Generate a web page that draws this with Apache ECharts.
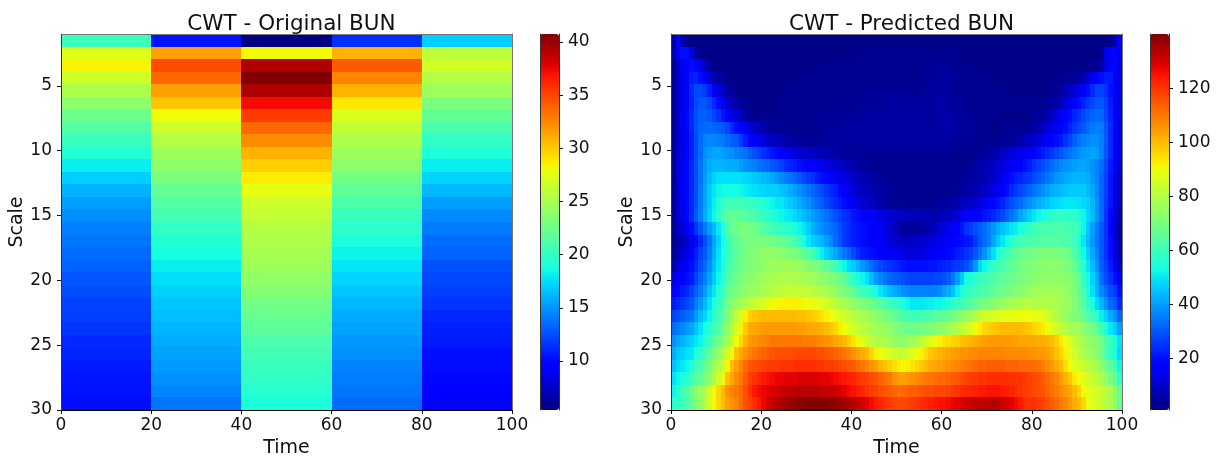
<!DOCTYPE html>
<html><head><meta charset="utf-8">
<script src="https://cdn.jsdelivr.net/npm/echarts@6/dist/echarts.min.js"></script>
<style>html,body{margin:0;padding:0;background:#fff}#c{width:1219px;height:458px;filter:blur(0.5px)}</style>
</head><body><div id="c"></div>
<script>
const titles = ['CWT - Original BUN', 'CWT - Predicted BUN'];
const xName = 'Time', yName = 'Scale';
const xTicks = [0, 20, 40, 60, 80, 100];
const yTicks = [5, 10, 15, 20, 25, 30];
const barTicksLeft = [10, 15, 20, 25, 30, 35, 40];
const barTicksRight = [20, 40, 60, 80, 100, 120];
const rangeLeft = [5.4, 40.75];
const rangeRight = [1, 140];

const origTime0 = [20.3,27.3,28.4,26.6,25.2,23.8,22.4,21.3,20.2,19.2,18.1,17.0,16.0,15.3,14.8,14.2,13.9,13.5,13.2,12.8,12.5,12.1,12.0,11.6,11.2,11.1,10.7,10.5,10.4,10.2];
const origTime1 = [10.4,31.6,34.7,33.7,31.5,30.2,28.0,26.6,25.5,24.5,23.8,23.1,22.0,21.3,20.6,19.9,19.2,18.7,18.1,17.6,17.1,16.7,16.4,16.1,15.8,15.5,15.2,14.9,14.4,13.9];
const origTime2 = [5.4,28.2,39.3,40.75,39.3,37.2,35.4,33.7,32.3,30.9,29.8,28.7,27.7,26.6,26.1,25.5,25.2,24.8,24.5,24.0,23.4,22.7,22.2,21.7,21.0,20.6,20.2,19.9,19.4,19.0];
const origTime3 = [11.4,30.9,34.2,32.6,30.9,28.9,27.2,26.1,25.2,24.5,23.8,22.7,21.8,21.0,20.2,19.7,19.0,18.3,17.8,17.2,16.7,16.2,15.8,15.5,15.1,14.8,14.4,14.1,13.9,13.5];
const origTime4 = [17.0,25.9,26.6,25.5,24.5,23.1,22.0,21.0,19.9,19.0,18.1,17.2,16.2,15.3,14.6,14.1,13.5,13.2,12.6,12.3,12.0,11.6,11.2,10.9,10.7,10.3,10.2,10.0,9.8,9.8];

const predicted = [
[5,16,7,3,2,2,2,2,2,2,2,2,2,2,2,2,2,2,2,2,2,2,2,2,2,2,2,2,2,2,2,2,2,2,2,2,2,2,2,2,2,2,2,2,2,2,2,2,2,2,2,2,2,2,2,2,2,2,2,2,2,2,2,2,2,2,2,2,2,2,2,2,2,2,2,2,2,2,2,2,2,2,2,2,2,2,2,2,2,2,2,2,2,2,2,2,2,3,8,16],
[6,14,20,20,12,7,3,2,2,2,2,2,2,2,2,2,2,2,2,2,2,2,2,2,2,2,2,2,2,2,2,2,2,2,2,2,2,2,2,2,2,2,3,3,3,3,3,3,3,3,3,3,3,3,3,3,3,3,3,3,3,3,3,3,2,2,2,2,2,2,2,2,2,2,2,2,2,2,2,2,2,2,2,2,2,2,2,2,2,2,2,2,2,2,2,3,14,18,18,15],
[4,9,15,18,20,18,13,8,5,3,2,2,2,2,2,2,2,2,2,2,2,2,2,2,2,2,2,2,2,2,2,2,2,2,3,3,3,3,3,3,3,3,3,3,3,3,3,3,3,3,3,3,3,3,3,3,4,4,4,4,4,4,3,3,3,3,2,2,2,2,2,2,2,2,2,2,2,2,2,2,2,2,2,2,2,2,2,2,2,2,2,2,2,3,4,6,12,18,19,12],
[4,9,14,18,22,23,20,15,11,7,5,3,2,2,2,2,2,2,2,2,2,2,2,2,2,2,2,2,3,3,3,3,3,3,3,3,3,3,3,3,3,3,3,3,3,3,3,3,3,3,3,3,3,3,3,3,4,4,4,5,5,5,4,3,3,3,3,3,3,3,3,2,2,2,2,2,2,2,2,2,2,2,2,2,2,2,3,3,3,4,5,7,10,14,17,20,22,22,17,12],
[4,9,14,18,24,28,28,26,22,18,13,9,6,4,3,2,2,2,2,2,2,2,2,2,3,3,3,3,3,3,3,3,3,3,3,3,3,3,3,3,3,3,3,4,4,4,4,4,4,4,4,4,4,4,4,4,4,5,5,5,5,5,4,4,3,3,3,3,3,3,3,3,3,3,2,2,2,2,2,2,2,2,2,2,3,4,5,7,9,11,14,17,20,24,27,27,25,20,16,12],
[4,9,14,18,23,28,30,30,28,24,20,15,11,8,6,4,3,2,2,2,2,2,2,3,3,3,3,3,3,3,3,3,3,3,3,3,4,4,4,4,4,4,4,4,4,4,4,4,5,5,5,5,5,5,5,5,5,5,5,6,6,5,5,4,4,4,3,3,3,3,3,3,3,3,3,3,3,3,3,3,3,3,3,4,5,6,9,12,15,18,20,23,26,28,30,30,27,22,18,13],
[4,9,14,19,24,29,31,31,30,28,25,21,16,13,11,8,6,4,3,3,3,3,3,3,3,3,3,3,3,3,3,3,4,4,4,4,4,4,4,4,4,4,5,5,5,5,5,5,5,5,5,5,5,5,5,5,5,5,5,6,6,6,5,5,4,4,4,3,3,3,3,3,3,2,2,2,2,2,2,2,3,4,5,7,9,12,15,17,20,23,25,28,30,32,33,32,28,23,18,13],
[4,9,14,19,24,29,32,33,33,32,31,30,28,24,20,17,15,12,10,8,6,5,4,4,3,3,3,3,3,3,3,3,4,4,4,4,4,4,5,5,5,5,5,5,5,5,5,5,5,5,5,5,5,5,5,5,5,5,5,6,6,6,6,5,5,4,4,4,3,3,2,2,2,3,3,3,3,3,4,4,5,7,9,11,13,15,17,20,23,26,28,30,33,35,36,35,30,24,18,13],
[4,9,14,18,23,28,33,36,37,37,36,35,33,31,30,26,22,19,16,14,12,10,9,8,7,6,5,5,4,4,4,4,4,4,5,5,5,5,5,5,5,5,5,5,5,5,5,5,5,5,5,5,5,5,5,5,5,5,5,5,5,5,5,4,4,4,4,3,3,3,3,3,3,4,4,4,5,6,8,9,10,12,14,16,18,20,22,25,28,31,34,36,37,38,38,36,30,24,18,13],
[4,10,14,19,23,28,33,38,40,41,41,40,39,38,36,35,34,31,29,27,25,23,21,19,18,16,14,12,11,10,10,9,8,7,7,6,6,5,5,5,4,4,4,4,4,4,4,4,4,4,4,4,4,4,4,4,4,4,4,4,4,4,3,3,3,3,3,3,4,4,5,6,7,9,10,12,13,14,15,16,18,20,22,24,26,28,30,32,34,36,38,39,40,41,40,36,30,24,18,12],
[4,11,15,19,24,29,34,39,42,43,43,43,42,42,42,40,38,37,36,34,33,32,30,29,27,24,23,22,20,19,18,17,15,14,13,12,11,10,8,7,6,5,5,4,4,3,3,3,3,3,3,3,3,3,3,3,3,3,3,3,3,3,3,3,3,3,4,5,6,7,8,9,11,12,14,15,17,18,20,22,25,27,29,31,33,35,37,38,39,40,41,41,40,38,36,33,28,22,16,11],
[4,11,15,19,24,29,34,40,44,47,49,49,49,49,49,49,48,47,46,45,44,43,41,39,37,35,34,32,30,28,26,25,22,20,19,17,15,14,13,11,9,8,7,6,5,5,4,4,4,3,3,3,3,3,3,3,3,3,3,3,3,3,3,3,4,4,5,5,6,7,8,10,12,14,17,20,22,23,25,26,28,30,32,34,36,39,40,41,42,43,43,43,42,39,36,32,27,21,14,8],
[4,10,15,19,24,29,35,41,46,50,52,53,53,53,53,52,51,50,49,48,48,47,47,47,45,44,42,40,38,36,34,32,30,28,26,24,22,19,16,14,12,10,9,8,7,6,5,5,4,4,3,3,3,3,3,3,3,3,3,3,3,3,4,4,5,5,6,7,8,9,11,13,15,17,20,24,26,28,30,32,34,36,38,40,42,43,44,45,46,46,46,46,44,41,37,32,27,21,14,8],
[4,10,14,19,24,29,35,41,46,51,55,59,60,61,61,60,60,59,58,57,56,54,52,50,50,48,46,44,42,40,38,35,33,31,28,26,24,22,20,17,15,13,11,10,9,8,6,5,4,3,3,3,3,3,3,3,3,3,4,4,5,5,6,7,8,9,10,11,13,15,17,19,21,23,26,29,31,33,36,38,40,42,44,45,47,48,49,50,50,50,49,48,47,43,38,32,26,21,14,7],
[4,10,14,19,24,30,36,42,47,52,57,62,65,66,66,65,64,63,62,60,58,57,55,53,52,51,50,48,46,44,42,40,38,36,34,31,29,27,25,24,21,20,18,17,16,15,13,12,11,10,9,9,8,8,8,8,7,7,6,7,8,9,10,12,14,16,17,18,19,21,22,24,26,28,31,34,37,41,44,47,50,52,54,55,57,58,58,58,57,57,55,52,48,44,38,33,25,19,12,6],
[3,8,12,16,20,25,30,35,40,44,50,56,62,66,68,70,70,69,68,66,64,62,60,59,58,57,56,54,52,50,46,42,40,38,36,34,32,29,26,24,22,21,20,19,18,17,15,13,11,9,5,4,4,4,5,5,6,7,9,10,12,14,16,18,21,25,27,29,31,33,36,39,42,45,47,50,51,54,56,58,60,61,62,62,62,62,62,62,61,60,58,52,46,40,35,30,25,16,10,5],
[3,5,8,11,15,19,24,29,34,41,47,53,59,63,66,68,69,70,70,70,70,69,69,68,67,66,64,62,58,54,50,47,45,43,40,37,33,30,26,24,22,21,20,19,18,17,15,14,12,11,9,9,9,9,10,10,11,12,13,14,15,16,17,19,20,21,22,26,30,33,36,41,46,50,53,56,59,61,62,62,63,63,64,64,64,64,63,63,62,60,55,50,44,39,34,30,25,20,12,4],
[4,7,11,14,18,22,27,31,36,42,49,54,58,62,65,68,70,71,72,73,74,74,74,74,73,72,71,70,68,66,63,60,55,51,47,44,41,38,35,32,28,25,22,21,20,19,18,17,16,15,14,13,12,12,13,13,14,15,16,17,18,19,20,22,23,25,27,30,34,38,44,49,54,58,61,63,65,67,68,69,70,70,71,71,71,71,70,70,67,63,58,53,47,41,36,30,25,20,13,6],
[6,10,15,18,20,24,29,33,38,44,50,55,60,63,66,68,70,71,72,73,74,75,76,76,76,76,76,76,75,74,72,71,70,68,66,63,60,56,52,48,46,43,39,36,33,30,28,26,25,24,22,21,20,20,20,20,20,21,21,22,23,24,25,26,27,29,33,39,48,52,56,58,60,62,64,66,67,69,70,71,72,72,73,73,73,73,72,71,70,66,61,56,50,44,38,31,27,22,15,9],
[12,15,17,20,22,27,32,36,41,46,52,57,62,65,68,70,72,73,74,75,76,77,78,78,79,79,79,79,78,78,77,76,75,74,73,71,70,68,65,61,57,54,52,49,44,40,37,34,32,31,30,29,28,27,27,27,27,27,28,28,29,31,35,40,46,53,55,57,59,60,61,63,64,65,66,68,69,70,71,72,73,73,74,74,74,74,74,73,73,70,65,58,53,47,41,33,29,25,20,14],
[17,19,22,24,27,31,35,40,45,50,56,60,66,68,70,72,74,75,76,77,78,79,80,81,82,83,83,83,83,82,82,81,80,79,78,76,74,72,70,68,66,63,60,58,56,54,50,47,44,42,40,38,37,36,36,36,36,36,36,37,40,42,45,51,54,58,59,60,62,63,64,65,67,68,69,71,72,73,74,75,76,77,77,77,77,77,76,75,74,71,66,61,55,49,42,37,33,29,26,20],
[22,24,26,28,30,35,39,44,49,54,58,63,69,72,75,78,79,81,83,85,86,88,90,91,92,92,92,92,92,91,90,89,88,87,85,83,81,79,78,76,74,73,71,70,68,66,64,62,60,58,56,54,52,50,50,50,51,51,52,52,53,55,57,59,60,62,64,66,68,70,71,73,74,75,77,78,79,79,80,80,80,80,80,79,79,78,77,76,75,72,68,64,58,54,48,43,38,33,30,24],
[27,29,31,33,34,39,44,48,52,56,60,66,71,75,82,87,92,97,98,99,100,100,100,100,100,100,100,100,99,99,98,97,96,94,92,90,88,86,84,82,80,79,78,76,75,74,72,70,69,67,64,62,61,60,60,61,62,63,64,65,66,67,69,71,73,75,77,80,82,84,85,86,87,88,88,89,89,90,90,90,89,88,87,85,82,79,77,75,73,71,69,66,63,60,56,51,47,42,38,32],
[33,35,37,39,41,45,49,53,56,60,63,69,74,79,86,92,98,102,103,104,105,105,105,105,105,105,105,105,104,104,103,103,102,101,100,98,96,93,90,87,85,83,81,80,78,77,76,75,74,72,70,69,68,68,68,69,70,71,72,73,74,76,78,80,82,84,87,90,93,96,97,98,99,100,100,100,100,100,99,98,96,95,93,90,87,85,82,80,78,77,76,74,71,69,65,60,56,50,46,40],
[38,41,43,45,47,50,52,56,60,64,69,73,78,83,90,96,101,105,106,107,108,109,110,110,110,110,110,110,110,109,109,109,108,107,106,105,103,102,100,97,94,91,87,84,81,80,79,78,77,75,74,74,75,77,79,81,84,88,90,92,94,95,96,97,99,100,101,102,103,104,105,105,105,105,105,104,104,103,103,103,103,102,102,101,100,97,93,90,87,83,79,77,75,73,72,68,63,59,55,49],
[42,45,47,49,50,54,57,62,66,70,74,80,85,90,99,103,106,108,110,112,113,114,115,116,116,116,116,117,117,117,117,117,116,116,115,114,113,112,110,108,106,104,102,100,96,92,90,88,86,85,82,83,85,87,90,92,95,98,100,101,102,103,104,105,106,106,107,107,108,108,108,108,108,108,107,107,107,107,107,106,106,105,105,104,102,99,96,92,88,85,81,79,77,75,72,68,63,58,54,48],
[45,48,50,52,55,60,62,67,71,75,79,85,91,100,104,108,112,115,116,117,118,119,119,119,120,120,120,121,121,121,121,121,120,120,119,119,118,117,116,115,114,112,110,108,106,104,101,99,97,95,92,91,92,94,96,98,100,102,103,104,105,106,107,108,109,110,111,112,113,113,114,114,114,114,113,113,113,112,112,112,112,111,109,107,105,102,100,95,90,87,85,83,81,79,77,73,69,65,60,52],
[49,52,54,56,60,63,66,70,74,78,85,90,99,103,107,110,114,118,120,122,124,125,126,127,127,128,128,128,129,129,129,129,129,128,128,127,126,125,124,123,122,120,119,118,116,115,113,111,110,106,104,104,105,106,107,108,110,110,111,112,112,113,114,115,116,118,119,119,120,120,121,121,121,121,121,120,120,120,119,118,117,116,114,112,110,108,104,101,98,93,90,88,85,83,81,78,75,70,66,58],
[52,56,60,64,69,72,76,80,86,90,96,100,106,108,110,112,116,120,124,126,127,128,129,130,131,132,132,133,133,133,133,133,133,132,132,132,131,130,128,126,125,123,122,120,119,118,116,115,114,113,111,112,113,114,114,115,116,116,117,117,117,118,119,120,121,122,122,123,124,124,125,125,125,124,123,122,121,120,119,118,117,116,115,113,111,109,107,105,103,100,96,90,88,86,85,83,81,79,73,68],
[56,58,60,62,66,71,75,80,85,90,96,100,104,106,108,112,116,118,121,124,127,129,132,134,135,136,137,138,139,139,140,140,140,140,140,139,138,137,136,135,134,132,130,128,126,124,122,120,119,118,117,117,118,119,120,121,122,123,124,125,125,126,127,128,129,131,131,132,132,133,133,134,133,131,130,128,126,124,121,120,121,119,118,116,114,112,110,108,105,102,100,96,90,87,85,83,81,78,74,66]
];
const original = [origTime0, origTime1, origTime2, origTime3, origTime4];

function jet(t){
  const seg=(pts)=>{for(let i=1;i<pts.length;i++){if(t<=pts[i][0]){const a=pts[i-1],b=pts[i];return a[1]+(b[1]-a[1])*(t-a[0])/(b[0]-a[0]);}}return pts[pts.length-1][1];};
  const r=seg([[0,0],[.35,0],[.66,1],[.89,1],[1,.5]]);
  const g=seg([[0,0],[.125,0],[.375,1],[.64,1],[.91,0],[1,0]]);
  const b=seg([[0,.5],[.11,1],[.34,1],[.65,0],[1,0]]);
  return 'rgb('+[r,g,b].map(v=>Math.round(v*255)).join(',')+')';
}
const jetColors=[];for(let i=0;i<=64;i++)jetColors.push(jet(i/64));

const font='"DejaVu Sans"', ink='#111', gridTop=34, gridH=376;
const edge=r=>1+r*29/30;
const leftData=[];original.forEach((col,c)=>col.forEach((v,r)=>leftData.push([c*20,(c+1)*20,edge(r),edge(r+1),v])));
const rightData=[];predicted.forEach((row,r)=>row.forEach((v,c)=>rightData.push([c,c+1,edge(r),edge(r+1),v])));

const renderCell=(p,api)=>{
  const a=api.coord([api.value(0),api.value(2)]), b=api.coord([api.value(1),api.value(3)]);
  const x=Math.round(a[0]),y=Math.round(a[1]);
  return {type:'rect',shape:{x,y,width:Math.round(b[0])-x,height:Math.round(b[1])-y},style:{fill:api.visual('color')}};
};
const hiddenLine={show:true,lineStyle:{color:'#777',width:1},onZero:false};
const grids=[],xAxes=[],yAxes=[];
function addPlot(left,title){
  const g=grids.length;
  grids.push({left,width:451,top:gridTop,height:gridH,containLabel:false,outerBoundsMode:'none'});
  const tick={length:4,lineStyle:{color:ink,width:1}};
  const lab={fontFamily:font,fontSize:17,color:ink};
  xAxes.push({gridIndex:g,type:'value',min:0,max:100,interval:20,position:'bottom',z:5,
    axisLine:{show:true,onZero:false,lineStyle:{color:'#000',width:1}},axisTick:tick,
    axisLabel:Object.assign({margin:7},lab),splitLine:{show:false},
    name:xName,nameLocation:'middle',nameGap:28,nameTextStyle:{fontFamily:font,fontSize:19,color:ink}});
  xAxes.push({gridIndex:g,type:'value',min:0,max:100,position:'top',z:5,axisLine:hiddenLine,axisTick:{show:false},axisLabel:{show:false},splitLine:{show:false}});
  yAxes.push({gridIndex:g,type:'value',min:1,max:30,inverse:true,position:'left',z:5,
    axisLine:{show:true,onZero:false,lineStyle:{color:'#333',width:1}},
    axisTick:Object.assign({customValues:yTicks},tick),axisLabel:Object.assign({customValues:yTicks,margin:9},lab),splitLine:{show:false},
    name:yName,nameLocation:'middle',nameGap:33,nameTextStyle:{fontFamily:font,fontSize:19,color:ink}});
  yAxes.push({gridIndex:g,type:'value',min:1,max:30,inverse:true,position:'right',z:5,axisLine:hiddenLine,axisTick:{show:false},axisLabel:{show:false},splitLine:{show:false}});
  return {text:title,left:left+225.5,top:8,textAlign:'center',textStyle:{fontFamily:font,fontSize:21.5,fontWeight:'normal',color:ink}};
}
function addBar(left,range,ticks){
  const g=grids.length;
  grids.push({left,width:19,top:gridTop,height:gridH,outerBoundsMode:'none'});
  xAxes.push({gridIndex:g,type:'value',min:0,max:1,show:false});
  yAxes.push({gridIndex:g,type:'value',min:range[0],max:range[1],position:'right',z:5,
    axisLine:{show:true,onZero:false,lineStyle:{color:'#333',width:1}},
    axisTick:{customValues:ticks,length:4,lineStyle:{color:ink,width:1}},
    axisLabel:{customValues:ticks,fontFamily:font,fontSize:17,color:ink,margin:9},splitLine:{show:false}});
  yAxes.push({gridIndex:g,type:'value',min:range[0],max:range[1],position:'left',z:5,
    axisLine:{show:true,onZero:false,lineStyle:{color:'#333',width:1}},axisTick:{show:false},axisLabel:{show:false},splitLine:{show:false}});
}
const t0=addPlot(61,titles[0]); addBar(540,rangeLeft,barTicksLeft);
const t1=addPlot(671,titles[1]); addBar(1150,rangeRight,barTicksRight);
const vm=(i,range,left)=>({type:'continuous',seriesIndex:i,dimension:4,min:range[0],max:range[1],left,top:gridTop,
  itemWidth:19,itemHeight:gridH,padding:0,calculable:false,hoverLink:false,text:null,z:1,inRange:{color:jetColors}});
const chart=echarts.init(document.getElementById('c'),null,{renderer:'canvas'});
chart.setOption({
  animation:false,backgroundColor:'#fff',
  title:[t0,t1],grid:grids,xAxis:xAxes,yAxis:yAxes,
  visualMap:[vm(0,rangeLeft,540),vm(1,rangeRight,1150)],
  series:[
    {type:'custom',xAxisIndex:0,yAxisIndex:0,data:leftData,encode:{x:[0,1],y:[2,3]},renderItem:renderCell,clip:true,z:2},
    {type:'custom',xAxisIndex:3,yAxisIndex:4,data:rightData,encode:{x:[0,1],y:[2,3]},renderItem:renderCell,clip:true,z:2}
  ]
});
</script>
</body></html>
